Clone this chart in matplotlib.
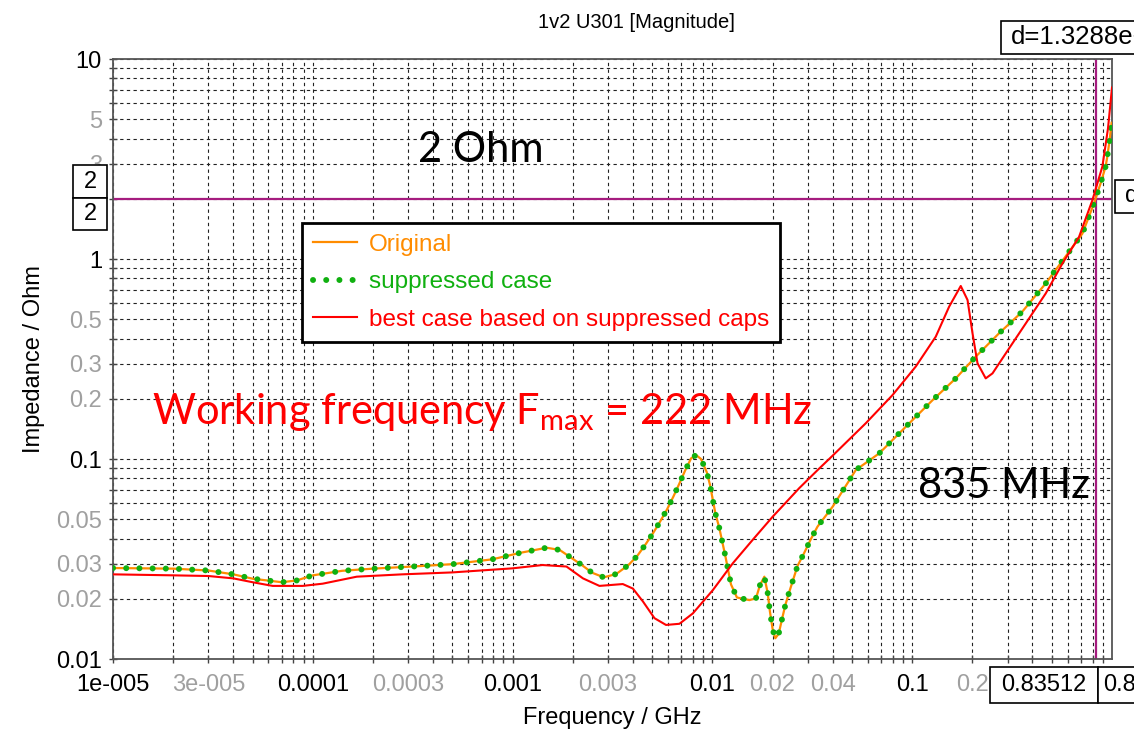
import numpy as np
import matplotlib.pyplot as plt
from matplotlib.ticker import FixedLocator, FixedFormatter, NullFormatter
from matplotlib.patches import Rectangle

# --------------------------------------------------
# impedance curves (GHz, Ohm)
# --------------------------------------------------
freq_supp = [1e-5, 2e-5, 3e-5, 4e-5, 5e-5, 7e-5, 8.3e-5, 1e-4, 1.4e-4, 2e-4,
             3.16e-4, 5e-4, 7.9e-4, 0.0011, 0.00148, 0.00172, 0.0022, 0.0025,
             0.00286, 0.0033, 0.0038, 0.0042, 0.00461, 0.00504, 0.00547,
             0.00593, 0.00638, 0.00684, 0.0073, 0.00782, 0.00828, 0.00877,
             0.00938, 0.00973, 0.01005, 0.01035, 0.01084, 0.01161, 0.01239,
             0.01327, 0.01531, 0.01652, 0.0173, 0.0182, 0.01892, 0.0194,
             0.02004, 0.02065, 0.02148, 0.0223, 0.02317, 0.02427, 0.02667,
             0.02884, 0.03112, 0.03357, 0.04, 0.0522, 0.0684, 0.0929, 0.1265,
             0.1652, 0.208, 0.272, 0.356, 0.466, 0.586, 0.711, 0.813, 0.877,
             0.929, 0.947, 0.973, 0.995]
z_supp = [0.0285, 0.0283, 0.0277, 0.0265, 0.0252, 0.0242, 0.0247, 0.0262,
          0.0276, 0.0283, 0.0290, 0.0298, 0.0315, 0.034, 0.036, 0.0351,
          0.0297, 0.0270, 0.0256, 0.0266, 0.0295, 0.0327, 0.0372, 0.0425,
          0.0486, 0.056, 0.0649, 0.0755, 0.0875, 0.1007, 0.1047, 0.100,
          0.0857, 0.0741, 0.0624, 0.0535, 0.045, 0.0327, 0.0236, 0.0203,
          0.0197, 0.0201, 0.0234, 0.0258, 0.0213, 0.0173, 0.014, 0.0127,
          0.0134, 0.0158, 0.0186, 0.0217, 0.0292, 0.0340, 0.0398, 0.0459,
          0.0578, 0.0881, 0.1067, 0.145, 0.197, 0.253, 0.325, 0.425, 0.546,
          0.755, 1.03, 1.34, 1.90, 2.39, 2.90, 3.24, 3.94, 4.8]

# original case lies exactly under the suppressed case
freq_orig = freq_supp
z_orig = z_supp

freq_best = [1e-5, 2e-5, 3e-5, 4e-5, 5e-5, 6.3e-5, 8.9e-5, 1.12e-4, 1.66e-4,
             2.8e-4, 5e-4, 0.001, 0.00141, 0.00186, 0.00225, 0.00272, 0.00356,
             0.004, 0.00449, 0.00513, 0.00586, 0.00684, 0.00798, 0.01005,
             0.01265, 0.0159, 0.02004, 0.0225, 0.0272, 0.0336, 0.04, 0.0586,
             0.0798, 0.1042, 0.1312, 0.1531, 0.175, 0.1892, 0.2004, 0.2123,
             0.2333, 0.2523, 0.2938, 0.37, 0.466, 0.565, 0.684, 0.798, 0.895,
             0.955, 1.0]
z_best = [0.0265, 0.0262, 0.0260, 0.0253, 0.0242, 0.0232, 0.0232, 0.0238,
          0.0258, 0.0265, 0.0271, 0.0284, 0.0295, 0.0290, 0.0253, 0.0232,
          0.0237, 0.0225, 0.0194, 0.016, 0.0148, 0.015, 0.0169, 0.0221,
          0.0301, 0.0394, 0.0515, 0.0583, 0.0715, 0.0880, 0.1040, 0.151,
          0.209, 0.290, 0.409, 0.578, 0.733, 0.624, 0.425, 0.301, 0.253,
          0.268, 0.337, 0.476, 0.673, 0.951, 1.29, 1.97, 2.90, 4.5, 7.2]

x_major = [1e-5, 3e-5, 1e-4, 3e-4, 1e-3, 3e-3, 1e-2, 2e-2, 4e-2, 0.1, 0.2]
x_labels = ['1e-005', '3e-005', '0.0001', '0.0003', '0.001', '0.003',
            '0.01', '0.02', '0.04', '0.1', '0.2']
y_major = [0.01, 0.02, 0.03, 0.05, 0.1, 0.2, 0.3, 0.5, 1, 3, 5, 10]
y_labels = ['0.01', '0.02', '0.03', '0.05', '0.1', '0.2', '0.3', '0.5',
            '1', '3', '5', '10']
decade_labels = ['1e-005', '0.0001', '0.001', '0.01', '0.1', '1', '10']

marker_freq = 0.83512
marker_z = 2

W, H = 1134, 738


def fx(x):
    return x / W


def fy(y):
    return 1 - y / H


plt.rcParams['font.family'] = ['Liberation Sans', 'DejaVu Sans']
plt.rcParams['mathtext.fontset'] = 'custom'
plt.rcParams['mathtext.rm'] = 'Lato'

fig = plt.figure(figsize=(W / 100, H / 100), dpi=100)
ax = fig.add_axes([fx(113), fy(659), (1112 - 113) / W, (659 - 59) / H])
ax.set_xscale('log')
ax.set_yscale('log')
ax.set_xlim(1e-5, 1)
ax.set_ylim(0.01, 10)

# all 1..9 multiples as grid / tick positions
x_all = [k * 10.0 ** n for n in range(-5, 0) for k in range(1, 10)]
y_all = [k * 10.0 ** n for n in range(-2, 1) for k in range(1, 10)] + [10]
ax.xaxis.set_major_locator(FixedLocator(x_major))
ax.xaxis.set_major_formatter(FixedFormatter(x_labels))
ax.xaxis.set_minor_locator(FixedLocator([v for v in x_all if min(abs(v / m - 1) for m in x_major) > 1e-6]))
ax.xaxis.set_minor_formatter(NullFormatter())
ax.yaxis.set_major_locator(FixedLocator(y_major))
ax.yaxis.set_major_formatter(FixedFormatter(y_labels))
ax.yaxis.set_minor_locator(FixedLocator([v for v in y_all if min(abs(v / m - 1) for m in y_major) > 1e-6]))
ax.yaxis.set_minor_formatter(NullFormatter())

ax.grid(True, which='both', color='#222222', linestyle=(0, (3, 3)), linewidth=0.8)
ax.tick_params(which='both', direction='inout', length=6, width=1, color='#444444',
               labelsize=17)
ax.tick_params(axis='x', pad=8)
ax.tick_params(axis='y', pad=5)
for lbl in ax.get_xticklabels() + ax.get_yticklabels():
    lbl.set_color('black' if lbl.get_text() in decade_labels else '#a0a0a0')
for sp in ax.spines.values():
    sp.set_color('#555555')
    sp.set_linewidth(1.3)

# cursor lines
ax.axhline(marker_z, color='#a51c7f', lw=1.6, zorder=2)
ax.axvline(marker_freq, color='#a51c7f', lw=1.6, zorder=2)

ax.plot(freq_orig, z_orig, color='#ff8c00', lw=1.6, label='Original', zorder=3)
ax.plot(freq_supp, z_supp, color='#10b010', lw=4.3, linestyle=(0, (0.01, 2.2)),
        dash_capstyle='round', label='suppressed case', zorder=4)
ax.plot(freq_best, z_best, color='#ff0000', lw=1.5,
        label='best case based on suppressed caps', zorder=5)

leg = ax.legend(loc='upper left', bbox_to_anchor=(fx(302), fy(223)),
                bbox_transform=fig.transFigure, borderaxespad=0, fontsize=17.5,
                labelcolor='linecolor', fancybox=False, framealpha=1,
                edgecolor='black', handlelength=1.8, handletextpad=0.5,
                borderpad=0.45, labelspacing=0.63)
leg.get_frame().set_linewidth(2)
leg.set_zorder(10)

ax.set_xlabel('Frequency / GHz', fontsize=17, labelpad=8)
ax.set_ylabel('Impedance / Ohm', fontsize=17, labelpad=8)
fig.text(fx(636), fy(22), '1v2 U301 [Magnitude]', fontsize=14.5,
         ha='center', va='center')

# annotations
ax.text(fx(418), fy(162), '2 Ohm', transform=fig.transFigure, fontsize=30,
        family='Lato', color='black', va='baseline', zorder=11)
ax.text(fx(918), fy(498), '835 MHz', transform=fig.transFigure, fontsize=30,
        family='Lato', color='black', va='baseline', zorder=11)
ax.text(fx(152), fy(424), r'Working frequency F$_{\mathrm{max}}$ = 222 MHz',
        transform=fig.transFigure, fontsize=30, family='Lato', color='#ff0000',
        va='baseline', zorder=11)


def box(x0, y0, x1, y1, txt, ha='center', tx=None, size=17):
    fig.patches.append(Rectangle((fx(x0), fy(y1)), fx(x1) - fx(x0), fy(y0) - fy(y1),
                                 transform=fig.transFigure, facecolor='white',
                                 edgecolor='black', lw=1.2, zorder=20))
    xt = (x0 + x1) / 2 if tx is None else tx
    fig.text(fx(xt), fy((y0 + y1) / 2), txt, fontsize=size, ha=ha, va='center',
             zorder=21)


# cursor value boxes
box(73, 165, 107, 198, '2')
box(73, 198, 107, 230, '2')
box(990, 667, 1098, 703, '0.83512')
box(1098, 667, 1150, 703, '0.8351', ha='left', tx=1103)
box(1001, 21, 1150, 54, 'd=1.3288e+009', ha='left', tx=1011, size=18.5)
box(1115, 180, 1150, 213, 'd=2', ha='left', tx=1125)

fig.savefig('out.png', dpi=100)
